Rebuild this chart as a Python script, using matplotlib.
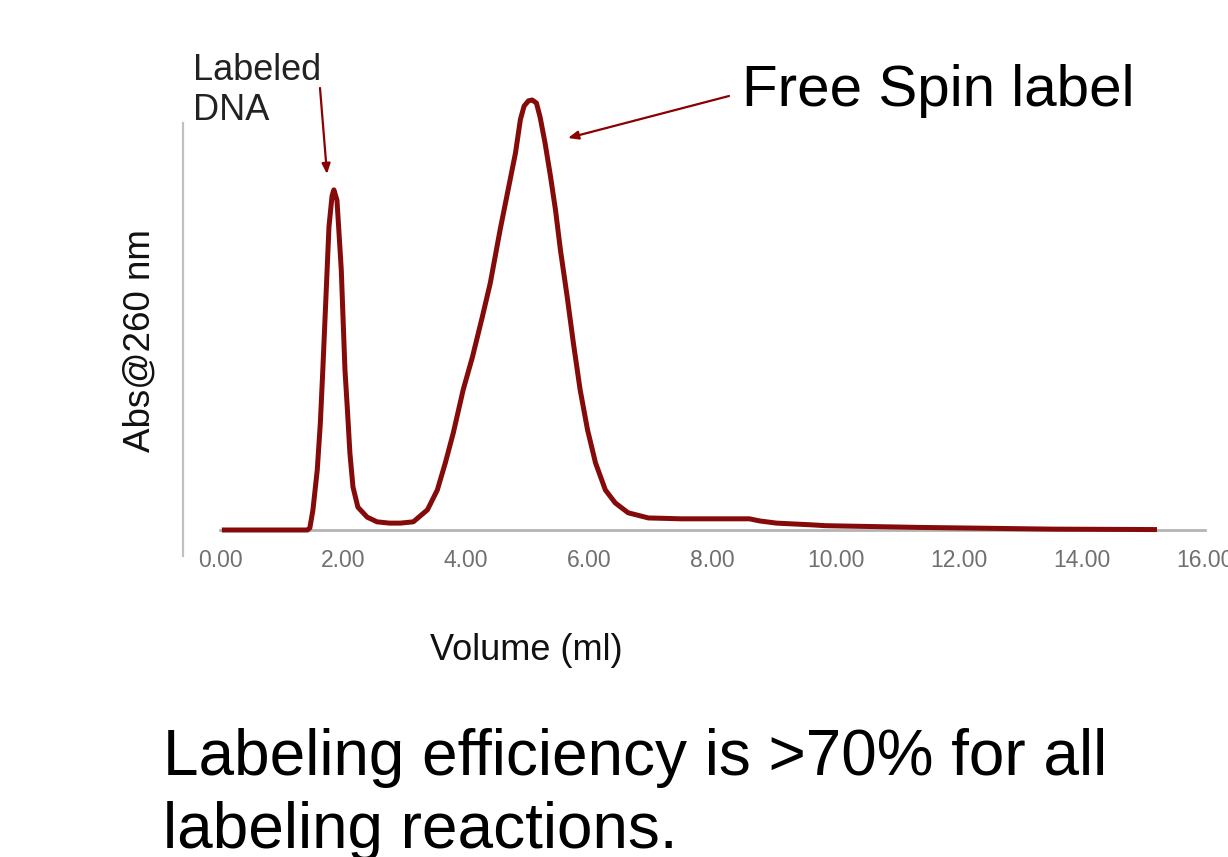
import matplotlib
matplotlib.use("Agg")
import matplotlib.pyplot as plt
from matplotlib.lines import Line2D

plt.rcParams['font.family'] = ['Liberation Sans', 'DejaVu Sans']

# Data (volume in ml, absorbance in relative units)
volume = [0.03, 1.42, 1.46, 1.51, 1.58, 1.63, 1.67, 1.71, 1.74, 1.77, 1.82, 1.85,
          1.90, 1.93, 1.97, 2.00, 2.03, 2.07, 2.11, 2.16, 2.24, 2.39, 2.55, 2.75,
          2.93, 3.14, 3.37, 3.53, 3.66, 3.79, 3.95, 4.10, 4.26, 4.39, 4.55, 4.68,
          4.80, 4.88, 4.94, 5.01, 5.07, 5.14, 5.20, 5.28, 5.37, 5.45, 5.53, 5.64,
          5.74, 5.85, 5.97, 6.10, 6.26, 6.42, 6.63, 6.96, 7.24, 7.48, 8.60, 8.77,
          9.04, 9.61, 9.84, 11.37, 13.54, 15.22]
absorbance = [0.0, 0.0, 0.005, 0.047, 0.140, 0.249, 0.372, 0.505, 0.605, 0.705, 0.777, 0.791,
              0.767, 0.698, 0.605, 0.488, 0.372, 0.279, 0.179, 0.100, 0.053, 0.030, 0.019, 0.016,
              0.016, 0.019, 0.047, 0.093, 0.156, 0.226, 0.326, 0.402, 0.495, 0.574, 0.698, 0.791,
              0.877, 0.955, 0.986, 0.998, 1.0, 0.993, 0.960, 0.900, 0.821, 0.744, 0.651, 0.542,
              0.435, 0.326, 0.233, 0.156, 0.093, 0.063, 0.040, 0.028, 0.027, 0.026, 0.026, 0.021,
              0.016, 0.012, 0.010, 0.006, 0.002, 0.001]

xticks = [0, 2, 4, 6, 8, 10, 12, 14, 16]
xticklabels = ["0.00", "2.00", "4.00", "6.00", "8.00", "10.00", "12.00", "14.00", "16.00"]

W, H = 1228, 857
fig = plt.figure(figsize=(W / 100, H / 100), dpi=100)
fig.patch.set_facecolor('white')

def fx(px):
    return px / W

def fy(py):
    return 1 - py / H

ax = fig.add_axes([fx(220), fy(530), fx(1205) - fx(220), fy(100) - fy(530)])
ax.plot(volume, absorbance, color='#850b0b', lw=3.6, solid_joinstyle='round',
        solid_capstyle='butt', clip_on=False, zorder=3)
ax.set_xlim(0, 16)
ax.set_ylim(0, 1)
for s in ['top', 'right', 'left']:
    ax.spines[s].set_visible(False)
ax.spines['bottom'].set_color('#b4b4b4')
ax.spines['bottom'].set_linewidth(2.0)
ax.set_yticks([])
ax.set_xticks(xticks)
ax.set_xticklabels(xticklabels)
ax.tick_params(axis='x', length=0, pad=14, labelsize=16.5, labelcolor='#707070')

# left vertical gray axis line
fig.add_artist(Line2D([fx(183), fx(183)], [fy(123), fy(556)], color='#c0c0c0', lw=1.6,
                      transform=fig.transFigure))

# axis titles
fig.text(fx(526), fy(650), 'Volume (ml)', fontsize=26, ha='center', va='center', color='#111111')
fig.text(fx(140), fy(341), 'Abs@260 nm', fontsize=26.5, ha='center', va='center',
         rotation=90, color='#111111')

# annotations
fig.text(fx(193), fy(80), 'Labeled', fontsize=26, ha='left', va='baseline', color='#222222')
fig.text(fx(193), fy(120), 'DNA', fontsize=26, ha='left', va='baseline', color='#222222')
fig.text(fx(742), fy(106), 'Free Spin label', fontsize=42, ha='left', va='baseline', color='black')

arrow_kw = dict(arrowstyle='-|>,head_length=0.6,head_width=0.25', color='#8b0000', lw=1.6,
                shrinkA=0, shrinkB=0)
ax.annotate('', xy=(327, H - 174), xytext=(320, H - 88), xycoords='figure pixels',
            textcoords='figure pixels', arrowprops=arrow_kw, annotation_clip=False)
ax.annotate('', xy=(568, H - 138), xytext=(729, H - 96), xycoords='figure pixels',
            textcoords='figure pixels', arrowprops=arrow_kw, annotation_clip=False)

# bottom statement
fig.text(fx(163), fy(775), 'Labeling efficiency is >70% for all', fontsize=46, ha='left',
         va='baseline', color='black')
fig.text(fx(163), fy(848), 'labeling reactions.', fontsize=46, ha='left',
         va='baseline', color='black')

fig.savefig('out.png', dpi=100)
